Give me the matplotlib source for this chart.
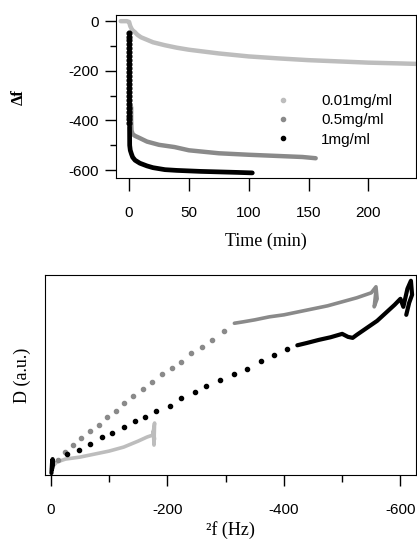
import matplotlib
matplotlib.use("Agg")
import matplotlib.pyplot as plt
from matplotlib.lines import Line2D

plt.rcParams["font.family"] = ["Liberation Sans", "DejaVu Sans"]
plt.rcParams["axes.unicode_minus"] = False
SERIF = ["Liberation Serif", "DejaVu Serif"]

LIGHT = "#bdbdbd"
MID = "#8a8a8a"
DARK = "#000000"

labels = ["0.01mg/ml", "0.5mg/ml", "1mg/ml"]

# --- top: frequency shift vs time ---
t_low = [-7, -2, 0, 1, 2, 3, 5, 7, 10, 15, 20, 30, 40, 50, 75, 100, 125, 150, 175, 200, 225, 240]
f_low = [0, 0, -3, -20, -30, -37, -45, -55, -65, -75, -85, -97, -107, -115, -130, -142, -150, -157, -162, -167, -170, -172]

t_mid = [1.7, 1.7, 2, 3, 5, 9, 15, 25, 38, 50, 75, 100, 125, 145, 156]
f_mid = [-346, -400, -440, -455, -462, -471, -485, -498, -507, -520, -532, -538, -543, -547, -552]

# sparse dots of the 1mg/ml drop
t_hi_drop = [0.3] * 24
f_hi_drop = [-48, -62, -77, -92, -108, -124, -140, -156, -172, -188, -204, -220,
             -236, -252, -268, -284, -300, -316, -332, -348, -364, -380, -396, -412]
t_hi = [0.4, 0.5, 1, 2, 3, 5, 9, 15, 20, 30, 40, 50, 60, 75, 90, 103]
f_hi = [-425, -500, -520, -535, -548, -560, -572, -583, -590, -598, -601, -603, -605, -607, -609, -611]

# --- bottom: dissipation vs frequency shift ---
df_low = [-2, -10, -25, -50, -75, -100, -125, -150, -165, -175, -178, -177, -176, -178]
D_low = [4, 6.5, 8, 9, 10.5, 12, 14, 17, 19, 20, 26, 15, 22, 18]

df_mid_dots = [-12, -24, -38, -52, -68, -82, -96, -112, -125, -141, -159, -174, -191,
               -208, -223, -240, -260, -277, -298]
D_mid_dots = [7.5, 11.7, 15, 18.3, 22.2, 25, 29.2, 32.2, 35.8, 39.5, 42.8, 46.7, 50.3,
              53.3, 56.5, 60.8, 63.8, 67.5, 71.7]
df_mid = [-315, -330, -350, -375, -400, -425, -450, -475, -500, -525, -550, -558, -560, -555, -558]
D_mid = [75.8, 76.5, 77.5, 79, 80, 81.5, 83, 84.5, 86.5, 88.5, 91, 94, 88, 84, 92]

df_hi_zero = [-1, -2, -3, -2, -4]
D_hi_zero = [1, 6, 8, 3, 7]
df_hi_dots = [-27, -48, -68, -87, -105, -125, -144, -161, -181, -205, -224, -247,
              -267, -290, -314, -337, -361, -383, -406]
D_hi_dots = [10.5, 12.5, 15.5, 19.2, 21.2, 24.2, 27, 29.2, 32, 34.7, 38.7, 41.5,
             44.5, 47.5, 50.3, 53.2, 57, 60, 62.8]
df_hi = [-423, -440, -460, -480, -500, -510, -518, -525, -535, -545, -560, -575,
         -590, -600, -605, -612, -618, -620, -615, -610]
D_hi = [64.8, 66, 67.5, 68.8, 70.5, 69, 68.5, 70, 72, 74, 77, 81,
        85, 88, 84, 93, 97, 90, 86, 80]

fig = plt.figure(figsize=(4.17, 5.43), dpi=100)

# top panel
ax1 = fig.add_axes([0.278, 0.672, 0.72, 0.300])
ax1.plot(t_low, f_low, color=LIGHT, lw=3.2, solid_capstyle="round")
ax1.plot(t_mid, f_mid, color=MID, lw=3.2, solid_capstyle="round")
ax1.plot(t_hi_drop, f_hi_drop, ls="none", marker="o", ms=3.4, color=DARK)
ax1.plot(t_hi, f_hi, color=DARK, lw=3.4, solid_capstyle="round")
ax1.set_xlim(-11, 240)
ax1.set_ylim(-632, 24)
ax1.set_xticks([0, 50, 100, 150, 200])
ax1.set_yticks([0, -200, -400, -600])
ax1.set_yticks([-100, -300, -500], minor=True)
ax1.tick_params(axis="x", length=9, width=1, pad=11, labelsize=11)
ax1.tick_params(axis="y", which="major", length=8, width=1, pad=4, labelsize=11)
ax1.tick_params(axis="y", which="minor", length=4, width=1)
ax1.set_xlabel("Time (min)", family=SERIF, fontsize=13, labelpad=9)
ax1.set_ylabel("Δf", family=SERIF, fontsize=12, fontweight="bold", labelpad=30)

handles = [Line2D([], [], ls="none", marker="o", ms=3, color=c) for c in (LIGHT, MID, DARK)]
ax1.legend(handles, labels, loc="center left", bbox_to_anchor=(0.51, 0.355),
           frameon=False, handlelength=1.0, handletextpad=2.0, labelspacing=0.35,
           fontsize=11, borderaxespad=0)

# bottom panel
ax2 = fig.add_axes([0.108, 0.125, 0.890, 0.369])
ax2.plot(df_low, D_low, color=LIGHT, lw=2.6, solid_capstyle="round")
ax2.plot(df_mid_dots, D_mid_dots, ls="none", marker="o", ms=3, color=MID)
ax2.plot(df_mid, D_mid, color=MID, lw=2.6, solid_capstyle="round")
ax2.plot(df_hi_zero, D_hi_zero, color=DARK, lw=3, solid_capstyle="round")
ax2.plot(df_hi_dots, D_hi_dots, ls="none", marker="o", ms=3, color=DARK)
ax2.plot(df_hi, D_hi, color=DARK, lw=3, solid_capstyle="round")
ax2.set_xlim(10, -627)
ax2.set_ylim(0, 100)
ax2.set_xticks([0, -200, -400, -600])
ax2.set_xticks([-100, -300, -500], minor=True)
ax2.set_yticks([])
ax2.tick_params(axis="x", which="major", length=8, width=1, pad=12, labelsize=11)
ax2.tick_params(axis="x", which="minor", length=5, width=1)
ax2.set_xlabel("²f (Hz)", family=SERIF, fontsize=13, labelpad=3)
ax2.set_ylabel("D (a.u.)", family=SERIF, fontsize=13, labelpad=10)

fig.savefig("out.png", dpi=100)
